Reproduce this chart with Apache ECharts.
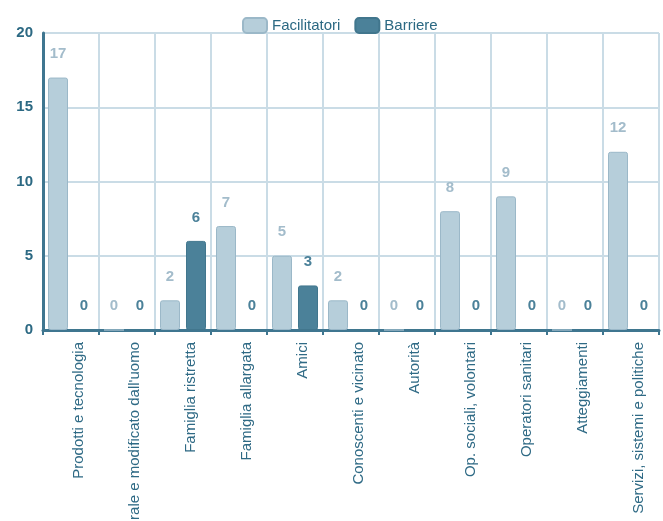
<!DOCTYPE html>
<html>
<head>
<meta charset="utf-8">
<script src="https://cdn.jsdelivr.net/npm/echarts@6/dist/echarts.min.js"></script>
<style>
    html, body { margin: 0; padding: 0; background: #fff; }
    #chart { width: 663px; height: 521px; }
</style>
</head>
<body>
<div id="chart"></div>
<script>
    var categories = ['Prodotti e tecnologia', "Ambiente naturale e modificato dall'uomo", 'Famiglia ristretta',
        'Famiglia allargata', 'Amici', 'Conoscenti e vicinato', 'Autorità', 'Op. sociali, volontari',
        'Operatori sanitari', 'Atteggiamenti', 'Servizi, sistemi e politiche'];
    var facilitatori = [17, 0, 2, 7, 5, 2, 0, 8, 9, 0, 12];
    var barriere = [0, 0, 6, 0, 3, 0, 0, 0, 0, 0, 0];
    var yTicks = [0, 5, 10, 15, 20];

    var dark = '#3f7690';
    var gridColor = '#cadce6';

    var chart = echarts.init(document.getElementById('chart'));
    var option = {
        backgroundColor: '#fff',
        animation: false,
        textStyle: { fontFamily: 'Liberation Sans, Arial, sans-serif' },
        legend: {
            top: 12,
            left: 237,
            itemWidth: 24,
            itemHeight: 15,
            itemGap: 14,
            textStyle: { color: '#2c6983', fontSize: 15 },
            data: ['Facilitatori', 'Barriere']
        },
        grid: { left: 43, right: 4, top: 33, bottom: 191, outerBoundsMode: 'none', containLabel: false },
        xAxis: {
            type: 'category',
            data: categories,
            axisLine: { lineStyle: { color: dark, width: 3 } },
            axisTick: { show: true, length: 5, lineStyle: { color: dark, width: 2 } },
            axisLabel: { rotate: 90, fontSize: 15, color: '#2f6a85', margin: 12, interval: 0, verticalAlign: 'top' },
            splitLine: { show: true, lineStyle: { color: gridColor, width: 2 } }
        },
        yAxis: {
            type: 'value',
            min: yTicks[0],
            max: yTicks[yTicks.length - 1],
            interval: 5,
            axisLine: { show: true, lineStyle: { color: dark, width: 3 } },
            axisTick: { show: false },
            axisLabel: { fontSize: 15, fontWeight: 'bold', color: '#2c6983', margin: 10 },
            splitLine: { show: true, lineStyle: { color: gridColor, width: 2 } }
        },
        series: [{
            name: 'Facilitatori',
            type: 'bar',
            data: facilitatori,
            barWidth: 20,
            barGap: '30%',
            itemStyle: { color: '#b6ceda', borderColor: '#9bb8c8', borderWidth: 1, borderRadius: 2 },
            label: { show: true, position: 'top', distance: 16, fontSize: 15, fontWeight: 'bold', color: '#a3bccb' }
        }, {
            name: 'Barriere',
            type: 'bar',
            data: barriere,
            barWidth: 20,
            itemStyle: { color: '#4b8199', borderColor: '#41768d', borderWidth: 1, borderRadius: 2 },
            label: { show: true, position: 'top', distance: 16, fontSize: 15, fontWeight: 'bold', color: '#4b8199' }
        }]
    };
    chart.setOption(option);
</script>
</body>
</html>
